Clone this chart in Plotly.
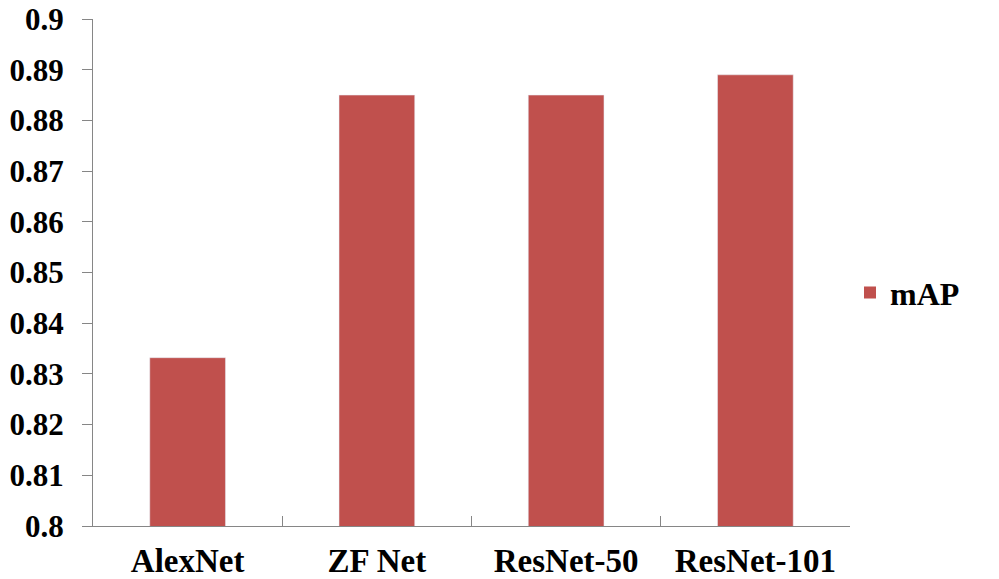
import plotly.graph_objects as go

# Chart data
models = ["AlexNet", "ZF Net", "ResNet-50", "ResNet-101"]
map_scores = [0.8332, 0.885, 0.885, 0.889]
y_ticks = [0.8, 0.81, 0.82, 0.83, 0.84, 0.85, 0.86, 0.87, 0.88, 0.89, 0.9]
y_tick_labels = ["0.8", "0.81", "0.82", "0.83", "0.84", "0.85",
                 "0.86", "0.87", "0.88", "0.89", "0.9"]

serif = "Liberation Serif, Times New Roman, serif"
bar_color = "#C0504D"

fig = go.Figure()
fig.add_trace(
    go.Bar(
        name="mAP",
        x=models,
        y=map_scores,
        marker=dict(color=bar_color),
        showlegend=False,
    )
)
# legend entry with a bigger square swatch
fig.add_trace(
    go.Scatter(
        name="mAP",
        x=[None], y=[None],
        mode="markers",
        marker=dict(symbol="square", size=16, color=bar_color),
        showlegend=True,
    )
)

# page body adds an 8px margin, so the figure is a bit smaller than the window
fig.update_layout(
    width=991,
    height=571,
    plot_bgcolor="white",
    paper_bgcolor="white",
    bargap=0.6,
    margin=dict(l=85, r=149, t=11, b=53),
    font=dict(family=serif, color="black"),
    legend=dict(
        x=1.0, y=0.46, xanchor="left", yanchor="middle",
        font=dict(family=serif, size=32, color="black", weight="bold"),
        itemsizing="constant",
    ),
)

fig.update_xaxes(
    automargin=False,
    showline=True, linecolor="#868686", linewidth=1,
    ticks="inside", ticklen=10, tickcolor="#868686",
    tickson="boundaries",
    showgrid=False,
    ticklabelstandoff=5,
    ticklabeloverflow="allow",
    tickfont=dict(family=serif, size=33, color="black", weight="bold"),
)

fig.update_yaxes(
    automargin=False,
    range=[0.8, 0.90001],
    tickvals=y_ticks, ticktext=y_tick_labels,
    showline=True, linecolor="#868686", linewidth=1,
    ticks="outside", ticklen=10, tickcolor="#868686",
    showgrid=False, zeroline=False,
    ticklabelstandoff=12,
    ticklabeloverflow="allow",
    tickfont=dict(family=serif, size=31, color="black", weight="bold"),
)

fig.write_html("out.html")
